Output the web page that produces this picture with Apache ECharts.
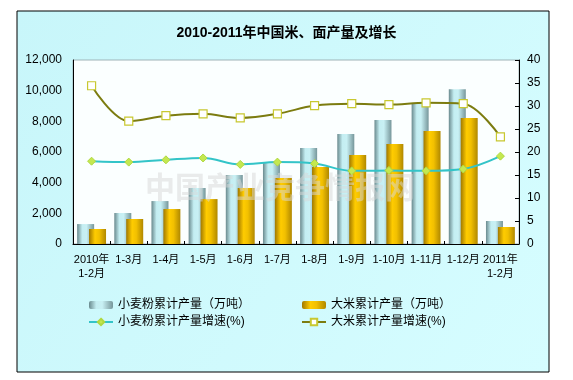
<!DOCTYPE html>
<html><head><meta charset="utf-8">
<script src="https://cdn.jsdelivr.net/npm/echarts@6/dist/echarts.min.js"></script>
<style>html,body{margin:0;padding:0;background:#fff}#c{width:573px;height:380px}</style>
</head><body><div id="c"></div>
<script>
const categories = ['2010年\n1-2月','1-3月','1-4月','1-5月','1-6月','1-7月','1-8月','1-9月','1-10月','1-11月','1-12月','2011年\n1-2月'];
const wheatOutput = [1300, 2020, 2800, 3650, 4500, 5280, 6260, 7170, 8090, 9130, 10100, 1500];
const riceOutput = [980, 1630, 2280, 2930, 3650, 4300, 5020, 5800, 6520, 7370, 8220, 1110];
const wheatGrowth = [18.0, 17.8, 18.3, 18.7, 17.3, 17.8, 17.5, 15.9, 16.0, 15.9, 16.3, 19.1];
const riceGrowth = [34.4, 26.7, 27.9, 28.3, 27.4, 28.3, 30.1, 30.5, 30.3, 30.7, 30.5, 23.3];

const FONT = "'Liberation Sans','Noto Sans CJK SC',sans-serif";
const chart = echarts.init(document.getElementById('c'));
const wheatGrad = new echarts.graphic.LinearGradient(0,0,1,0,[
  {offset:0,color:'#6a8a8e'},{offset:0.3,color:'#c4eef2'},{offset:0.55,color:'#c8f0f4'},{offset:1,color:'#76969a'}]);
const riceGrad = new echarts.graphic.LinearGradient(0,0,1,0,[
  {offset:0,color:'#a07800'},{offset:0.35,color:'#ffcc00'},{offset:0.6,color:'#f2c000'},{offset:1,color:'#b08800'}]);
chart.setOption({
  animation:false,
  textStyle:{fontFamily:FONT,color:'#000'},
  graphic:[
    {type:'rect',z:-10,shape:{x:17,y:11,width:532,height:361},
     style:{fill:new echarts.graphic.LinearGradient(0,0,1,1,[{offset:0,color:'#c8f6fa'},{offset:1,color:'#d6fdff'}]),stroke:'#000',lineWidth:1}},
    {type:'text',z:100,left:145,top:172,style:{text:'中国产业竞争情报网',font:"bold 30px 'Noto Sans CJK SC',serif",fill:'rgba(215,215,215,0.5)'}}
  ],
  title:{text:'2010-2011年中国米、面产量及增长',left:'center',top:21,
    textStyle:{fontSize:14,fontWeight:'bold',fontFamily:FONT,color:'#000'}},
  grid:{left:73,right:54,top:60,bottom:136,show:true,backgroundColor:'#fbffff',borderColor:'#9fb4b8',borderWidth:1},
  legend:[
    {left:88,top:299,padding:0,orient:'vertical',itemGap:5,itemWidth:24,itemHeight:8,
     textStyle:{fontSize:12,fontFamily:FONT,color:'#000'},
     data:['小麦粉累计产量（万吨）','小麦粉累计产量增速(%)']},
    {left:301,top:299,padding:0,orient:'vertical',itemGap:5,itemWidth:24,itemHeight:8,
     textStyle:{fontSize:12,fontFamily:FONT,color:'#000'},
     data:['大米累计产量（万吨）','大米累计产量增速(%)']}
  ],
  xAxis:{type:'category',data:categories,
    axisLine:{lineStyle:{color:'#000'}},
    axisTick:{show:true,inside:true,length:3,lineStyle:{color:'#000'}},
    axisLabel:{interval:0,fontSize:11,color:'#000',margin:9,lineHeight:14}},
  yAxis:[
    {type:'value',min:0,max:12000,interval:2000,
     axisLine:{show:true,lineStyle:{color:'#000'}},axisTick:{show:false},
     splitLine:{show:false},
     axisLabel:{fontSize:12,color:'#000',margin:11,formatter:v=>v.toLocaleString('en-US')}},
    {type:'value',min:0,max:40,interval:5,position:'right',
     axisLine:{show:true,lineStyle:{color:'#000'}},
     axisTick:{show:true,inside:true,length:4,lineStyle:{color:'#000'}},
     splitLine:{show:false},
     axisLabel:{fontSize:12,color:'#000',margin:8}}
  ],
  series:[
    {name:'小麦粉累计产量（万吨）',type:'bar',data:wheatOutput,barWidth:17,barGap:'-30%',
     itemStyle:{color:wheatGrad}},
    {name:'大米累计产量（万吨）',type:'bar',data:riceOutput,barWidth:17,barGap:'-30%',
     itemStyle:{color:riceGrad}},
    {name:'小麦粉累计产量增速(%)',type:'line',yAxisIndex:1,data:wheatGrowth,smooth:0.35,
     symbol:'diamond',symbolSize:8,lineStyle:{color:'#33c4c8',width:2},
     itemStyle:{color:'#c4e850',borderColor:'#b0d840',borderWidth:1}},
    {name:'大米累计产量增速(%)',type:'line',yAxisIndex:1,data:riceGrowth,smooth:0.35,
     symbol:'rect',symbolSize:8,lineStyle:{color:'#7c7c10',width:2},
     itemStyle:{color:'#ffffff',borderColor:'#c8c830',borderWidth:1.2}}
  ]
});
</script></body></html>
